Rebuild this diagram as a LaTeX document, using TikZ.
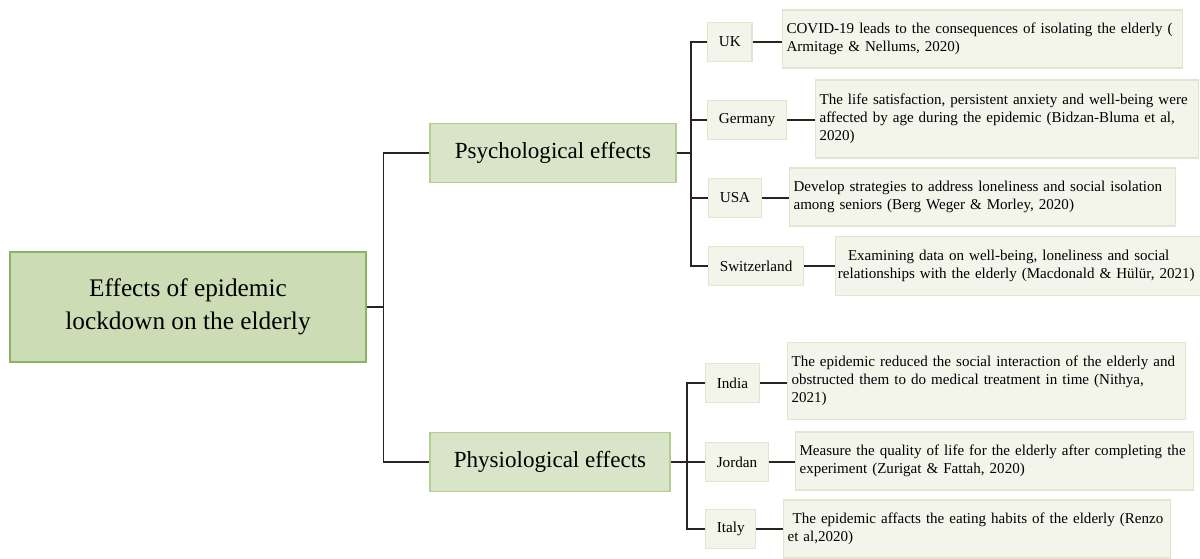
\documentclass[tikz,border=0pt]{standalone}
\usepackage{fontspec}
\setmainfont{Liberation Serif}
\usetikzlibrary{positioning}
\definecolor{rootfill}{HTML}{CCDDB6}
\definecolor{rootline}{HTML}{8AB362}
\definecolor{midfill}{HTML}{D8E5C9}
\definecolor{midline}{HTML}{B4CE92}
\definecolor{leaffill}{HTML}{F3F5EB}
\definecolor{leafline}{HTML}{E2E6D0}
\definecolor{wire}{HTML}{2B2320}
\tikzset{
  rootbox/.style={
    draw=rootline, fill=rootfill, line width=2pt,
    minimum width=8.9cm, minimum height=2.75cm,
    align=center, font=\fontsize{18}{23.5}\selectfont
  },
  midbox/.style={
    draw=midline, fill=midfill, line width=1.2pt,
    minimum height=1.48cm,
    align=center, font=\fontsize{16.4}{19}\selectfont
  },
  tagbox/.style={
    draw=leafline, fill=leaffill, line width=0.8pt,
    minimum height=0.98cm, inner xsep=8pt,
    font=\fontsize{10.8}{13}\selectfont
  },
  descbox/.style={
    draw=leafline, fill=leaffill, line width=0.8pt,
    inner xsep=0.1cm, align=left,
    font=\fontsize{10.7}{12.9}\selectfont
  },
  trunk/.style={draw=wire, line width=1.3pt},
  twig/.style={draw=wire, line width=0.9pt}
}

\begin{document}
\begin{tikzpicture}[x=0.025cm, y=-0.025cm]
  \useasboundingbox (0,0) rectangle (1200,558);

  % root and the two branches
  \node[rootbox] (root) at (188,307) {Effects of epidemic\\lockdown on the elderly};
  \node[midbox, minimum width=6.15cm] (psy) at (553,153) {Psychological effects};
  \node[midbox, minimum width=6cm] (phy) at (550,462) {Physiological effects};

  % psychological effects
  \node[tagbox, anchor=west] (uk)  at (707,42)  {UK};
  \node[tagbox, anchor=west] (ger) at (707,120) {Germany};
  \node[tagbox, anchor=west] (usa) at (708,198) {USA};
  \node[tagbox, anchor=west] (swi) at (708,266) {Switzerland};

  \node[descbox, anchor=west, text width=9.8cm, minimum height=1.45cm] (ukd) at (782,39)
    {COVID-19 leads to the consequences of isolating the elderly (\\Armitage \& Nellums, 2020)};
  \node[descbox, anchor=west, text width=9.38cm, minimum height=1.95cm] (gerd) at (815,119)
    {The life satisfaction, persistent anxiety and well-being were\\affected by age during the epidemic (Bidzan-Bluma et al,\\2020)};
  \node[descbox, anchor=west, text width=9.45cm, minimum height=1.45cm] (usad) at (789,197)
    {Develop strategies to address loneliness and social isolation\\among seniors (Berg Weger \& Morley, 2020)};
  \node[descbox, anchor=west, text width=9cm, inner xsep=0.06cm, minimum height=1.48cm] (swid) at (835,266)
    {\ \ Examining data on well-being, loneliness and social\\relationships with the elderly (Macdonald \& Hülür, 2021)};

  % physiological effects
  \node[tagbox, anchor=west] (ind) at (705,383) {India};
  \node[tagbox, anchor=west] (jor) at (705,462) {Jordan};
  \node[tagbox, anchor=west] (ita) at (705,529) {Italy};

  \node[descbox, anchor=west, text width=9.75cm, minimum height=1.93cm] (indd) at (787,381)
    {The epidemic reduced the social interaction of the elderly and\\obstructed them to do medical treatment in time (Nithya,\\2021)};
  \node[descbox, anchor=west, text width=9.75cm, minimum height=1.45cm] (jord) at (795,461)
    {Measure the quality of life for the elderly after completing the\\experiment (Zurigat \& Fattah, 2020)};
  \node[descbox, anchor=west, text width=9.48cm, minimum height=1.45cm] (itad) at (783,529)
    {\ The epidemic affacts the eating habits of the elderly (Renzo\\et al,2020)};

  % connectors
  \draw[trunk] (root.east) -- ++(16,0) coordinate (fork);
  \draw[trunk] (fork) |- (psy.west);
  \draw[trunk] (fork) |- (phy.west);

  \draw[twig] (psy.east) -- ++(14,0) coordinate (psyfork);
  \draw[twig] (phy.east) -- ++(16,0) coordinate (phyfork);
  \foreach \c in {uk,ger,usa,swi}
    \draw[twig] (psyfork) |- (\c.west);
  \foreach \c in {ind,jor,ita}
    \draw[twig] (phyfork) |- (\c.west);
  \foreach \c/\d in {uk/ukd,ger/gerd,usa/usad,swi/swid,ind/indd,jor/jord,ita/itad}
    \draw[twig] (\c.east) -- (\c.east -| \d.west);
\end{tikzpicture}
\end{document}
